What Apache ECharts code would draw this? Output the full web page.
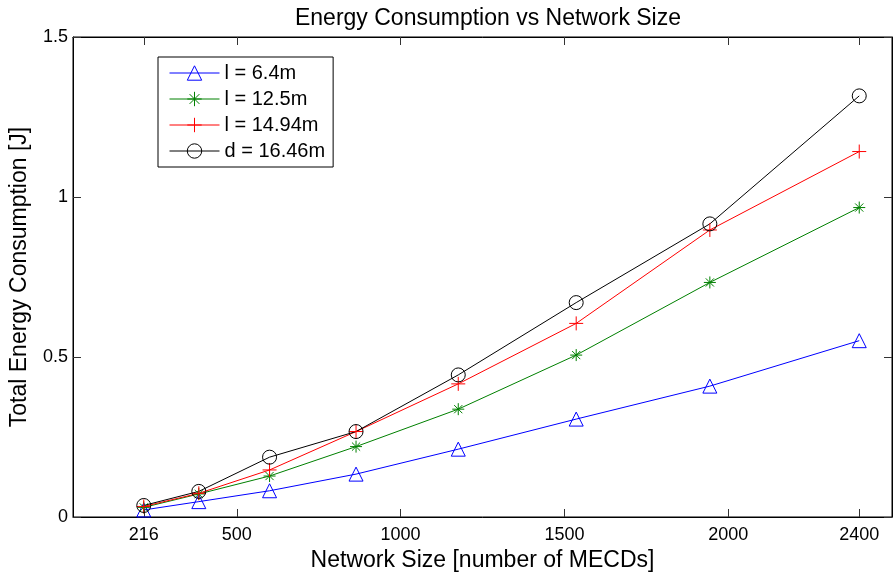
<!DOCTYPE html>
<html>
<head>
<meta charset="utf-8">
<script src="https://cdn.jsdelivr.net/npm/echarts@6/dist/echarts.min.js"></script>
<style>
  html, body { margin: 0; padding: 0; background: #fff; }
  #chart { width: 894px; height: 578px; }
</style>
</head>
<body>
<div id="chart"></div>
<script>
// Network sizes (number of MECDs) on the x axis
const networkSizes = [216, 384, 600, 864, 1176, 1536, 1944, 2400];

// Total energy consumption [J] for each configuration
const energyL64 = [0.022, 0.048, 0.082, 0.134, 0.212, 0.306, 0.409, 0.551];
const energyL125 = [0.030, 0.072, 0.128, 0.220, 0.337, 0.506, 0.733, 0.967];
const energyL1494 = [0.033, 0.074, 0.147, 0.267, 0.416, 0.605, 0.897, 1.142];
const energyD1646 = [0.036, 0.080, 0.187, 0.267, 0.444, 0.670, 0.916, 1.316];

const seriesNames = ['l = 6.4m', 'l = 12.5m', 'l = 14.94m', 'd = 16.46m'];

// Tick labels
const xTicks = [216, 500, 1000, 1500, 2000, 2400];
const yTicks = [0, 0.5, 1, 1.5];

const FONT = 'Liberation Sans';

const plusPath = 'path://M5,0L5,10M0,5L10,5';
const starPath = 'path://M5,0L5,10M0,5L10,5M1.6,1.6L8.4,8.4M8.4,1.6L1.6,8.4';

function pairs(ys) {
  return networkSizes.map((x, i) => [x, ys[i]]);
}

function makeSeries(name, ys, color, symbol, size) {
  return {
    name: name,
    type: 'line',
    data: pairs(ys),
    color: color,
    symbol: symbol,
    symbolSize: size,
    showAllSymbol: true,
    lineStyle: { color: color, width: 1 },
    itemStyle: { color: 'transparent', borderColor: color, borderWidth: 1 },
    emphasis: { disabled: true },
    animation: false
  };
}

const chart = echarts.init(document.getElementById('chart'), null, { renderer: 'canvas' });

const tickStyle = { color: '#333', width: 1 };
const lineStyle = { color: '#000', width: 1 };

chart.setOption({
  backgroundColor: '#fff',
  animation: false,
  title: {
    text: 'Energy Consumption vs Network Size',
    left: 483, top: 2,
    textAlign: 'center',
    textStyle: { fontFamily: FONT, fontSize: 23, fontWeight: 'normal', color: '#000' }
  },
  legend: {
    orient: 'vertical',
    left: 158, top: 57,
    padding: [6, 8, 6, 11],
    itemWidth: 50, itemHeight: 18, itemGap: 6,
    borderColor: '#000', borderWidth: 1,
    backgroundColor: '#fff',
    lineStyle: { width: 1 },
    itemStyle: { borderWidth: 1 },
    textStyle: { fontFamily: FONT, fontSize: 20, color: '#000' },
    data: seriesNames
  },
  grid: { left: 73, right: 2, top: 37, bottom: 61, containLabel: false,
    show: true, borderColor: '#000', borderWidth: 1, backgroundColor: 'transparent' },
  xAxis: [{
    type: 'value', min: 0, max: 2500,
    position: 'bottom',
    name: 'Network Size [number of MECDs]',
    nameLocation: 'middle', nameGap: 27,
    nameTextStyle: { fontFamily: FONT, fontSize: 23, color: '#000' },
    axisLine: { show: true, onZero: false, lineStyle: lineStyle },
    axisTick: { show: true, inside: true, length: 8, customValues: xTicks, lineStyle: tickStyle },
    axisLabel: { show: true, customValues: xTicks, margin: 9, fontFamily: FONT, fontSize: 18, color: '#000',
      formatter: v => String(v) },
    splitLine: { show: false }
  }, {
    type: 'value', min: 0, max: 2500,
    position: 'top',
    axisLine: { show: true, onZero: false, lineStyle: lineStyle },
    axisTick: { show: true, inside: true, length: 8, customValues: xTicks, lineStyle: tickStyle },
    axisLabel: { show: false },
    splitLine: { show: false }
  }],
  yAxis: [{
    type: 'value', min: 0, max: 1.5, interval: 0.5,
    position: 'left',
    name: 'Total Energy Consumption [J]',
    nameLocation: 'middle', nameGap: 42, nameRotate: 90,
    nameTextStyle: { fontFamily: FONT, fontSize: 23, color: '#000' },
    axisLine: { show: true, onZero: false, lineStyle: lineStyle },
    axisTick: { show: true, inside: true, length: 8, customValues: yTicks, lineStyle: tickStyle },
    axisLabel: { show: true, customValues: yTicks, margin: 5, fontFamily: FONT, fontSize: 18, color: '#000',
      formatter: v => String(v) },
    splitLine: { show: false }
  }, {
    type: 'value', min: 0, max: 1.5, interval: 0.5,
    position: 'right',
    axisLine: { show: true, onZero: false, lineStyle: lineStyle },
    axisTick: { show: true, inside: true, length: 8, customValues: yTicks, lineStyle: tickStyle },
    axisLabel: { show: false },
    splitLine: { show: false }
  }],
  series: [
    makeSeries(seriesNames[0], energyL64, '#0000ff', 'triangle', 14),
    makeSeries(seriesNames[1], energyL125, '#008000', starPath, 12),
    makeSeries(seriesNames[2], energyL1494, '#ff0000', plusPath, 14),
    makeSeries(seriesNames[3], energyD1646, '#000000', 'circle', 14)
  ]
});
</script>
</body>
</html>
